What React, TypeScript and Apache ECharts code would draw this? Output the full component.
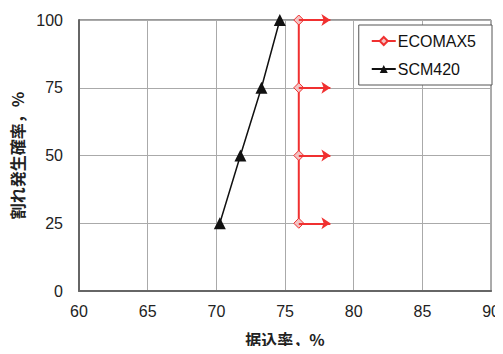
import React, { useEffect, useRef } from "react";
import * as echarts from "echarts";

const xTicks = [60, 65, 70, 75, 80, 85, 90];
const yTicks = [0, 25, 50, 75, 100];
const ecomaxX = [76, 76, 76, 76];
const ecomaxY = [25, 50, 75, 100];
const arrowEndX = 78.3;
const scmX = [70.25, 71.75, 73.28, 74.62];
const scmY = [25, 50, 75, 100];

const FONT = "'Liberation Sans', Arial, sans-serif";
const CJK = "'Noto Sans CJK JP', sans-serif";

export default function App() {
  const ref = useRef<HTMLDivElement>(null);
  useEffect(() => {
    if (!ref.current) return;
    const chart = echarts.init(ref.current, undefined, { renderer: "svg" });
    chart.setOption({
      animation: false,
      backgroundColor: "#ffffff",
      grid: {
        left: 79,
        top: 20,
        right: 6,
        bottom: 63,
        show: true,
        borderColor: "#333",
        borderWidth: 1,
      },
      legend: {
        orient: "vertical",
        right: 11,
        top: 25,
        width: 130,
        padding: [8, 16, 8, 12],
        itemGap: 12,
        itemWidth: 24,
        itemHeight: 10,
        borderColor: "#555",
        borderWidth: 1,
        backgroundColor: "#fff",
        textStyle: { fontFamily: FONT, fontSize: 16, color: "#111", padding: [0, 0, 0, -3] },
        data: ["ECOMAX5", "SCM420"],
      },
      xAxis: {
        type: "value",
        min: xTicks[0],
        max: xTicks[xTicks.length - 1],
        interval: 5,
        name: "据込率，%",
        nameLocation: "middle",
        nameGap: 40,
        nameTextStyle: { fontFamily: CJK, fontSize: 16, fontWeight: "bold", color: "#222" },
        axisLine: { lineStyle: { color: "#666", width: 2 } },
        axisTick: { show: false },
        axisLabel: { fontFamily: FONT, fontSize: 16, color: "#222", margin: 12 },
        splitLine: { lineStyle: { color: "#aaa", width: 1 } },
      },
      yAxis: {
        type: "value",
        min: yTicks[0],
        max: yTicks[yTicks.length - 1],
        interval: 25,
        name: "割れ発生確率，%",
        nameLocation: "middle",
        nameGap: 52,
        nameTextStyle: { fontFamily: CJK, fontSize: 16, fontWeight: "bold", color: "#222" },
        axisLine: { lineStyle: { color: "#666", width: 2 } },
        axisTick: { show: false },
        axisLabel: { fontFamily: FONT, fontSize: 16, color: "#222", margin: 16 },
        splitLine: { lineStyle: { color: "#aaa", width: 1 } },
      },
      series: [
        {
          name: "ECOMAX5",
          type: "line",
          data: ecomaxX.map((x, i) => [x, ecomaxY[i]]),
          symbol: "diamond",
          symbolSize: 10,
          lineStyle: { color: "#f03030", width: 2 },
          itemStyle: { color: "#f2c4c4", borderColor: "#f03030", borderWidth: 1 },
          z: 3,
          markLine: {
            silent: true,
            symbol: ["none", "arrow"],
            symbolSize: 9,
            label: { show: false },
            lineStyle: { color: "#f03030", width: 2, type: "solid" },
            data: ecomaxY.map((y, i) => [
              { coord: [ecomaxX[i], y] },
              { coord: [arrowEndX, y] },
            ]),
          },
        },
        {
          name: "SCM420",
          type: "line",
          data: scmX.map((x, i) => [x, scmY[i]]),
          symbol: "triangle",
          symbolSize: 12,
          lineStyle: { color: "#111", width: 1.5 },
          itemStyle: { color: "#111" },
          z: 3,
        },
      ],
    });
    return () => chart.dispose();
  }, []);
  return <div ref={ref} style={{ width: 503, height: 354, margin: -8 }} />;
}
